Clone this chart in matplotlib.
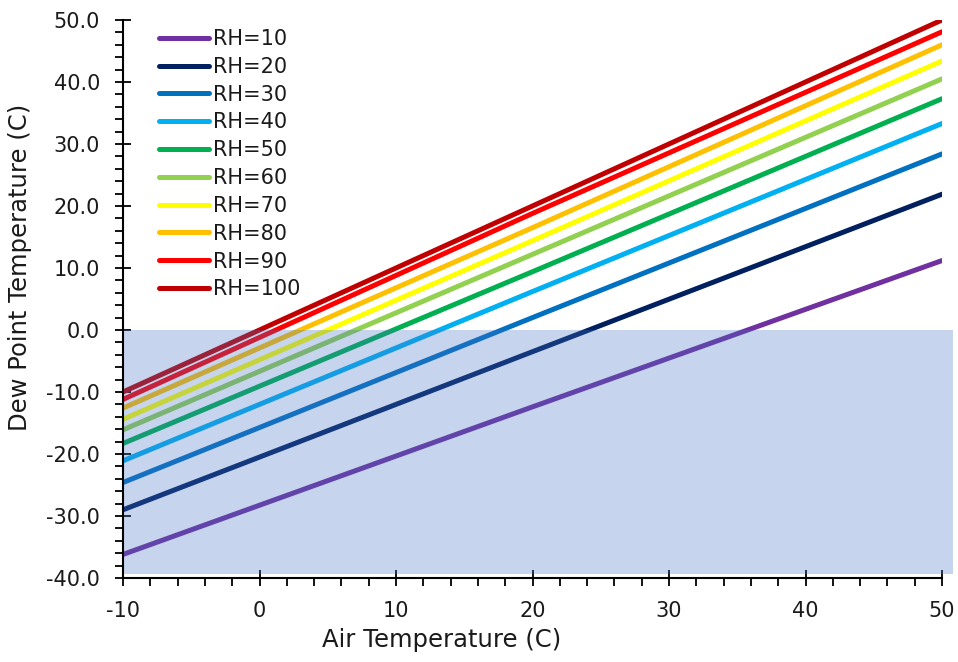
import matplotlib
matplotlib.use('Agg')
import matplotlib.pyplot as plt
from matplotlib.patches import Rectangle
from matplotlib.ticker import MultipleLocator, FormatStrFormatter

plt.rcParams['font.family'] = ['DejaVu Sans']
plt.rcParams['axes.unicode_minus'] = False

# air temperature points (C)
air_temp = [-10, 20, 50]

# dew point (C) for each relative humidity
rh_levels = [10, 20, 30, 40, 50, 60, 70, 80, 90, 100]
dew_rh10 = [-36.2, -12.4, 11.2]
dew_rh20 = [-29.0, -3.5, 21.9]
dew_rh30 = [-24.6, 2.0, 28.4]
dew_rh40 = [-21.1, 6.2, 33.3]
dew_rh50 = [-18.3, 9.4, 37.3]
dew_rh60 = [-16.1, 12.2, 40.5]
dew_rh70 = [-14.4, 14.4, 43.4]
dew_rh80 = [-12.6, 16.5, 46.0]
dew_rh90 = [-11.2, 18.8, 48.1]
dew_rh100 = [-10.0, 20.0, 50.0]

dew_points = [dew_rh10, dew_rh20, dew_rh30, dew_rh40, dew_rh50,
              dew_rh60, dew_rh70, dew_rh80, dew_rh90, dew_rh100]
colors = ['#7030A0', '#002060', '#0070C0', '#00B0F0', '#00B050',
          '#92D050', '#FFFF00', '#FFC000', '#FF0000', '#C00000']

# below-freezing band
freeze_x0, freeze_x1 = -10, 50.8
freeze_y0, freeze_y1 = -39.3, 0

text_color = '#1a1a1a'

fig = plt.figure(figsize=(9.58, 6.62), dpi=100)
ax = fig.add_axes([0.1284, 0.1269, 0.8549, 0.8429])

for rh, dp, c in zip(rh_levels, dew_points, colors):
    ax.plot(air_temp, dp, color=c, lw=3.6, solid_capstyle='round',
            label='RH=%d' % rh, zorder=2)

ax.add_patch(Rectangle((freeze_x0, freeze_y0), freeze_x1 - freeze_x0,
                       freeze_y1 - freeze_y0, facecolor='#4472C4',
                       edgecolor='none', alpha=0.3, zorder=3, clip_on=False))

ax.set_xlim(-10, 50)
ax.set_ylim(-40, 50)
ax.xaxis.set_major_locator(MultipleLocator(10))
ax.xaxis.set_minor_locator(MultipleLocator(2))
ax.yaxis.set_major_locator(MultipleLocator(10))
ax.yaxis.set_minor_locator(MultipleLocator(2))
ax.yaxis.set_major_formatter(FormatStrFormatter('%.1f'))

for side in ['top', 'right']:
    ax.spines[side].set_visible(False)
for side in ['left', 'bottom']:
    ax.spines[side].set_linewidth(1.5)
    ax.spines[side].set_color('black')
    ax.spines[side].set_zorder(5)

ax.tick_params(which='major', direction='inout', length=11, width=1.3,
               labelsize=15, labelcolor=text_color)
ax.tick_params(axis='y', which='major', pad=11)
ax.tick_params(axis='x', which='major', pad=11)
ax.tick_params(which='minor', direction='out', length=5.8, width=1.3)

ax.set_xlabel('Air Temperature (C)', fontsize=17.5, color=text_color, va='center')
ax.xaxis.set_label_coords(0.3895, -0.111)
ax.set_ylabel('Dew Point Temperature (C)', fontsize=17.5, color=text_color, va='center')
ax.yaxis.set_label_coords(-0.1258, 0.5565)

fig.legend(loc='upper left', bbox_to_anchor=(159 / 958, 1 - 29 / 662),
           frameon=False, fontsize=15, handlelength=2.4, handletextpad=0.2,
           labelspacing=0.375, borderpad=0, borderaxespad=0,
           labelcolor=text_color)

fig.savefig('out.png', dpi=100)
